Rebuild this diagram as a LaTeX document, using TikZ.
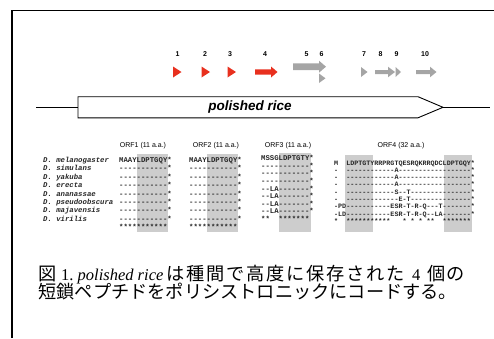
\documentclass[tikz,border=0pt]{standalone}
\usepackage{fontspec}
\setmainfont{Liberation Serif}
\setsansfont{Liberation Sans}
\setmonofont{Liberation Mono}
\newfontfamily\cjk{Noto Sans CJK JP}[Scale=1.103]
\definecolor{orfred}{RGB}{232,48,30}
\definecolor{orfgray}{RGB}{165,165,165}
\definecolor{boxgray}{RGB}{205,205,205}
\begin{document}
\begin{tikzpicture}[x=1pt,y=-1pt,
  num/.style={font=\sffamily\bfseries\fontsize{7}{7}\selectfont, inner sep=0pt},
  hdr/.style={font=\sffamily\fontsize{7}{7}\selectfont, inner sep=0pt},
  sqa/.style={font=\ttfamily\bfseries\fontsize{7.3}{7.3}\selectfont, inner sep=0pt, anchor=base west, text=black!85},
  sqb/.style={font=\ttfamily\bfseries\fontsize{6.7}{6.7}\selectfont, inner sep=0pt, anchor=base west, text=black!85},
  spc/.style={font=\ttfamily\bfseries\itshape\fontsize{7.3}{7.3}\selectfont, inner sep=0pt, anchor=base west, text=black!85},
  capt/.style={font=\fontsize{16.5}{16.5}\selectfont, inner sep=0pt, anchor=base west},
  hl/.style={fill=boxgray, draw=none},
  frameline/.style={line width=1.5pt},
  axisline/.style={line width=1.1pt},
]
\useasboundingbox (0,0) rectangle (494,338);
% frame
\draw[frameline] (12,338) -- (12,10.5) -- (494,10.5);

% ORF numbers
\foreach \lab/\xx in {1/177.5, 2/205, 3/230, 4/265, 5/306.5, 6/321.5, 7/364, 8/380.5, 9/396.5, 10/425}
  \node[num] (n\lab) at (\xx,54) {\lab};

% ORF arrows
\fill[orfred] (173,66.5) -- (173,77.5) -- (181.5,72) -- cycle;
\fill[orfred] (201.5,66.5) -- (201.5,77.5) -- (210,72) -- cycle;
\fill[orfred] (227.5,66.5) -- (227.5,77.5) -- (236,72) -- cycle;
\fill[orfred] (255,69.3) -- (271,69.3) -- (271,66.5) -- (277.5,72) -- (271,77.5) -- (271,74.7) -- (255,74.7) -- cycle;
\fill[orfgray] (293,63.3) -- (319,63.3) -- (319,60.7) -- (326,66.7) -- (319,72.7) -- (319,70) -- (293,70) -- cycle;
\fill[orfgray] (319,73.5) -- (319,83) -- (325.5,78.3) -- cycle;
\fill[orfgray] (361,67) -- (361,77) -- (367.5,72) -- cycle;
\fill[orfgray] (375,70) -- (388,70) -- (388,66.7) -- (395,72) -- (388,77.3) -- (388,74) -- (375,74) -- cycle;
\fill[orfgray] (395.5,67) -- (395.5,77) -- (401,72) -- cycle;
\fill[orfgray] (416,70) -- (430,70) -- (430,66.7) -- (436.5,72) -- (430,77.3) -- (430,74) -- (416,74) -- cycle;

% gene line and polished rice arrow
\coordinate (lineL) at (36,107.3);
\coordinate (lineR) at (490,107.3);
\coordinate (tip) at (443,107.3);
\coordinate (tail) at (78,107.3);
\draw[axisline] (lineL) -- (tail);
\draw[axisline] (tip) -- (lineR);
\draw[line width=0.9pt, fill=white] (78,96.7) -- (418,96.7) -- (tip) -- (418,117.8) -- (78,117.8) -- cycle;
\node[font=\sffamily\bfseries\itshape\fontsize{13.5}{13.5}\selectfont, inner sep=0pt] (pri) at (250,107.3) {polished rice};

% grey highlight boxes
\fill[hl] (137,154) rectangle (168,232);
\fill[hl] (207,154) rectangle (238,232);
\fill[hl] (279,153) rectangle (311,232);
\fill[hl] (345,155) rectangle (373,232);
\fill[hl] (444,155) rectangle (472,232);

% headers
\node[hdr] (h1) at (143,146) {ORF1 (11 a.a.)};
\node[hdr] (h2) at (216,146) {ORF2 (11 a.a.)};
\node[hdr] (h3) at (288,146) {ORF3 (11 a.a.)};
\node[hdr] (h4) at (401,146) {ORF4 (32 a.a.)};

% species
\foreach \s [count=\i from 0] in {melanogaster, simulans, yakuba, erecta, ananassae, pseudoobscura, majavensis, virilis}
  \node[spc] (sp\i) at (43,162.4+8.4*\i) {D.~\s};

% ORF1
\foreach \t [count=\i from 0] in {MAAYLDPTGQY*, -----------*, -----------*, -----------*, -----------*, -----------*, -----------*, -----------*, ***********}
  \node[sqa] (a\i) at (119,162.4+8.4*\i) {\t};
% ORF2
\foreach \t [count=\i from 0] in {MAAYLDPTGQY*, -----------*, -----------*, -----------*, -----------*, -----------*, -----------*, -----------*, ***********}
  \node[sqa] (b\i) at (189,162.4+8.4*\i) {\t};
% ORF3
\foreach \t [count=\i from 0] in {MSSGLDPTGTY*, -----------*, -----------*, -----------*, --LA-------*, --LA-------*, --LA-------*, --LA-------*, **~~*******}
  \node[sqa] (c\i) at (261,160.6+7.6*\i) {\t};
% ORF4
\foreach \t [count=\i from 0] in {
  M~~LDPTGTYRRPRGTQESRQKRRQDCLDPTGQY*,
  -~~------------A------------------*,
  -~~------------A------------------*,
  -~~------------A------------------*,
  -~~------------S--T---------------*,
  -~~-------------E-T---------------*,
  -PD-----------ESR-T-R-Q---T-------*,
  -LD-----------ESR-T-R-Q--LA-------*,
  *~~***********~~~*~*~*~**~~*******~}
  \node[sqb] (d\i) at (334,165+7.3*\i) {\t};

% caption, line 1 (justified: wider character pitch)
\node[capt] (cz) at (38.3,280.5) {\cjk 図};
\node[capt] (cn) at (61,280.5) {1.};
\node[capt] (cp) at (77.5,280.5) {\textit{polished rice}};
\foreach \c [count=\i from 0] in {は,種,間,で,高,度,に,保,存,さ,れ,た}
  \node[capt] (cj\i) at (166.7+20*\i,280.5) {\cjk \c};
\node[capt] (c4) at (412,280.5) {4};
\node[capt] (ck1) at (427,280.5) {\cjk 個};
\node[capt] (ck2) at (446.5,280.5) {\cjk の};
% caption, line 2
\node[capt] (cap2) at (38.3,298.5) {\cjk 短鎖ペプチドをポリシストロニックにコードする。};
\end{tikzpicture}
\end{document}
